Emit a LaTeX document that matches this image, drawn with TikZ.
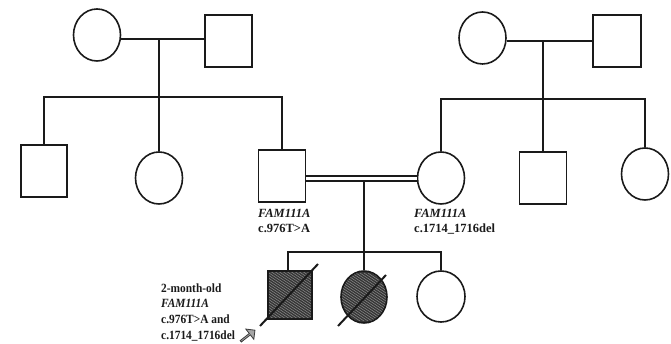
\documentclass[tikz,border=0pt]{standalone}
\usepackage{fontspec}
\setmainfont{Liberation Serif}
\usetikzlibrary{shapes.geometric,shapes.arrows,calc}
\definecolor{ink}{HTML}{1A1A1A}
\definecolor{aff}{HTML}{363636}
\definecolor{hatch}{HTML}{8C8C8C}
\begin{document}
\begin{tikzpicture}[x=1pt,y=-1pt,
  fem/.style={ellipse,draw=ink,line width=1.6pt,minimum width=47pt,minimum height=52pt,inner sep=0pt},
  mal/.style={rectangle,draw=ink,line width=1.6pt,minimum width=47pt,minimum height=52pt,inner sep=0pt},
  affected/.style={fill=aff,path picture={
     \foreach \i in {-80,-76,...,80}
       \draw[hatch,line width=0.5pt] ($(path picture bounding box.center)+(\i pt-36pt,24pt)$) -- ($(path picture bounding box.center)+(\i pt+36pt,-24pt)$);}},
  link/.style={draw=ink,line width=2.4pt},
  slash/.style={draw=ink,line width=2pt},
  lab/.style={anchor=base west,inner sep=0pt,text=ink,font=\fontsize{12.5}{14}\selectfont\bfseries},
  plab/.style={anchor=base west,inner sep=0pt,text=ink,yscale=1.1,font=\fontsize{11.4}{13}\selectfont\bfseries}
]
\useasboundingbox (0,0) rectangle (671,344);

% left grandparents
\node[fem] (gm1) at (97,35) {};
\node[mal] (gf1) at (228.5,41) {};
\coordinate (m1) at (159,39);
\coordinate (s1) at (159,97);
\draw[link] (gm1.east |- m1) -- (gf1.west |- m1);
\draw[link] (m1) -- (s1);

% left siblings
\node[mal,minimum width=46pt] (u1) at (44,171) {};
\node[fem] (a1) at (159,178) {};
\node[mal] (fa) at (282,176) {};
\draw[link] (u1.north) |- (s1) -| (fa.north);
\draw[link] (s1) -- (a1.north);

% right grandparents
\node[fem] (gm2) at (482.5,38) {};
\node[mal,minimum width=48pt] (gf2) at (617,41) {};
\coordinate (m2) at (543,41);
\coordinate (s2) at (543,99);
\draw[link] (gm2.east |- m2) -- (gf2.west |- m2);
\draw[link] (m2) -- (s2);

% right siblings
\node[fem] (mo) at (441,178) {};
\node[mal] (u2) at (543,178) {};
\node[fem] (a2) at (645,174) {};
\draw[link] (mo.north) |- (s2) -| (a2.north);
\draw[link] (s2) -- (u2.north);

% consanguineous couple
\coordinate (mm) at (364,178.5);
\coordinate (md) at (364,181.5);
\coordinate (s3) at (364,252);
\draw[draw=ink,line width=2pt,double=white,double distance=3.6pt] (fa.east |- mm) -- (mo.west |- mm);
\draw[link] (md) -- (s3);

% children
\node[mal,affected,minimum width=44pt,minimum height=48pt] (pr) at (290,295) {};
\node[fem,affected,minimum width=46pt] (si) at (364,297) {};
\node[fem,minimum width=48pt,minimum height=51pt] (s2c) at (441,296.5) {};
\draw[link] (pr.north -| 288,0) |- (s3) -| (s2c.north);
\draw[link] (s3) -- (si.north);
\draw[slash] ($(pr.center)+(-30,31)$) -- ($(pr.center)+(28,-31)$);
\draw[slash] ($(si.center)+(-26,29)$) -- ($(si.center)+(22,-22)$);

% labels
\node[lab] (fl1) at (258,218) {\textit{FAM111A}};
\node[lab] (fl2) at (258,233) {c.976T>A};
\node[lab] (ml1) at (414,218) {\textit{FAM111A}};
\node[lab] (ml2) at (414,233) {c.1714\_1716del};
\node[plab] (pl1) at (161,292) {2-month-old};
\node[plab] (pl2) at (161,307) {\textit{FAM111A}};
\node[plab] (pl3) at (161,323) {c.976T>A and};
\node[plab] (pl4) at (161,339) {c.1714\_1716del};

% proband arrow
\node[single arrow,draw=ink!85,fill=gray!70,line width=0.8pt,rotate=38,minimum height=18pt,minimum width=13pt,single arrow head extend=2.5pt,inner sep=0pt] (arr) at (247.5,336) {};
\end{tikzpicture}
\end{document}
